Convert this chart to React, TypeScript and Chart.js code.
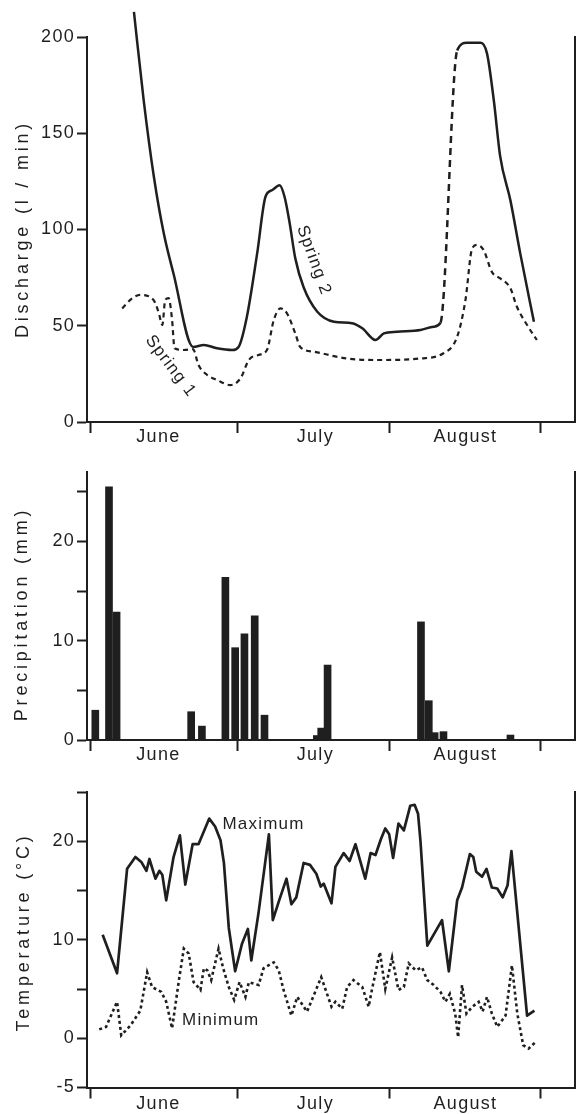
import React, { useEffect, useRef } from 'react';
import { Chart, registerables } from 'chart.js';

Chart.register(...registerables);

const FONT = '"Liberation Sans", Arial, Helvetica, sans-serif';
const INK = '#1f1f1f';

// x axis: days counted from 1 June
const monthBoundaryDays = [0, 30, 61, 92];
const monthLabelDays = [13.8, 45.9, 76.6];
const monthLabels = ['June', 'July', 'August'];

// Discharge (l/min)
const dischargeTicks = [0, 50, 100, 150, 200];
const dischargeLabelled = [0, 50, 100, 150, 200];
const spring2: [number, number | null][] = [
  [8.8, 213], [10.8, 167], [12.9, 127], [14.9, 98], [16.9, 77], [20.9, 39], [23.1, 40],
  [25.8, 38.3], [28.9, 37.4], [30.2, 39], [31.9, 54.7], [34.0, 87.6], [35.7, 117],
  [37.1, 120.5], [38.6, 123], [39.6, 117], [40.6, 104], [41.8, 85], [43.5, 70],
  [46.3, 57.3], [49.7, 52.1], [53.4, 51.3], [55.5, 48.7], [58.2, 42.6], [59.9, 46],
  [62.6, 46.9], [67.4, 47.8], [70.1, 49.5], [71.5, 51.6], [73.2, null], [74.9, 193],
  [76.9, 197], [79.7, 197], [81.0, 191.5], [82.4, 167], [83.7, 138], [85.8, 115],
  [87.8, 87.6], [90.6, 52.1],
];
const spring1: [number, number][] = [
  [6.4, 59], [8.3, 64], [10.1, 66], [12.8, 63.4], [13.9, 56.5], [14.6, 50.4], [15.2, 63.4],
  [15.9, 64.3], [16.6, 53], [17.1, 38.3], [19.0, 37.4], [20.9, 37.8], [22.0, 29.6],
  [23.8, 24.4], [25.8, 21.8], [28.5, 19.2], [30.6, 22.7], [32.3, 32.2], [34.3, 34.8],
  [36.0, 37.4], [37.4, 53], [38.75, 59], [40.1, 56.4], [41.8, 46], [42.8, 39], [45.6, 36.5],
  [52.4, 33], [59.2, 32.2], [67.4, 33], [72.1, 35.7], [74.9, 44.3], [76.6, 63.4],
  [77.95, 90], [79.0, 92], [80.3, 89.4], [82.0, 78], [83.7, 74.6], [85.8, 69.4],
  [87.1, 60], [89.2, 50.4], [91.2, 42.6],
];

// Precipitation (mm)
const precipTicks = [0, 5, 10, 15, 20, 25];
const precipLabelled = [0, 10, 20];
const precipitation: [number, number][] = [
  [0.9, 3.0], [3.7, 25.5], [5.25, 12.9], [20.5, 2.85], [22.7, 1.4], [27.5, 16.4],
  [29.5, 9.3], [31.4, 10.7], [33.5, 12.5], [35.5, 2.5], [46.2, 0.45], [47.1, 1.2],
  [48.4, 7.55], [67.5, 11.9], [69.1, 3.96], [70.3, 0.74], [72.1, 0.84], [85.8, 0.5],
];

// Temperature (°C)
const tempTicks = [-5, 0, 5, 10, 15, 20, 25];
const tempLabelled = [-5, 0, 10, 20];
const tempMax: [number, number][] = [
  [2.4, 10.5], [5.35, 6.6], [7.4, 17.2], [9.1, 18.4], [10.3, 17.9], [11.35, 17.0],
  [11.96, 18.2], [13.2, 16.2], [14.0, 17.0], [14.6, 16.6], [15.4, 14.0], [16.9, 18.4],
  [18.2, 20.6], [19.3, 15.6], [20.8, 19.7], [22.0, 19.7], [22.6, 20.4], [24.2, 22.3],
  [25.4, 21.5], [26.5, 20.1], [27.2, 17.8], [28.2, 11.2], [29.5, 6.8], [30.9, 9.6],
  [32.1, 11.1], [32.8, 7.9], [34.3, 12.8], [36.4, 20.7], [37.2, 12.0], [38.5, 14.0],
  [40.0, 16.2], [41.0, 13.6], [42.0, 14.3], [43.5, 17.8], [44.8, 17.6], [46.1, 16.7],
  [47.0, 15.4], [47.6, 15.7], [49.2, 13.7], [50.0, 17.4], [51.7, 18.8], [52.9, 18.0],
  [54.1, 19.7], [56.1, 16.2], [57.2, 18.8], [58.2, 18.6], [59.3, 20.2], [60.2, 21.3],
  [61.0, 20.7], [61.8, 18.3], [62.9, 21.8], [64.0, 21.1], [65.3, 23.6], [66.2, 23.7],
  [66.9, 22.8], [67.4, 20.0], [68.8, 9.4], [71.8, 12.0], [73.2, 6.8], [74.9, 14.0],
  [75.9, 15.3], [77.5, 18.7], [78.2, 18.4], [78.8, 16.9], [80.0, 16.4], [80.9, 17.2],
  [82.0, 15.3], [83.1, 15.2], [84.2, 14.3], [85.2, 15.5], [86.0, 19.0], [89.2, 2.3],
  [90.7, 2.8],
];
const tempMin: [number, number][] = [
  [1.7, 0.9], [3.1, 1.15], [5.35, 3.7], [6.2, 0.3], [8.1, 1.3], [10.1, 2.8], [11.5, 6.7],
  [12.5, 5.2], [14.4, 4.7], [15.4, 3.7], [16.6, 1.0], [18.0, 5.9], [19.0, 9.1], [20.0, 8.6],
  [21.0, 5.7], [22.4, 4.9], [23.1, 7.1], [23.8, 6.9], [24.6, 5.9], [26.1, 9.1], [27.0, 7.2],
  [28.2, 5.2], [29.3, 3.9], [30.4, 5.7], [31.6, 4.2], [32.3, 5.7], [34.3, 5.4], [35.3, 7.1],
  [37.4, 7.7], [38.4, 6.9], [39.4, 4.9], [41.0, 2.3], [42.2, 4.2], [44.2, 2.7], [47.1, 6.2],
  [49.2, 3.2], [50.0, 3.7], [51.4, 3.0], [52.4, 5.2], [53.7, 5.9], [55.5, 5.2], [56.8, 3.2],
  [57.5, 5.0], [59.1, 8.75], [60.2, 5.0], [61.6, 8.2], [62.9, 4.9], [64.0, 5.2], [65.0, 7.6],
  [66.4, 6.9], [67.7, 7.2], [68.8, 5.9], [70.1, 5.4], [71.5, 4.7], [72.5, 3.7], [73.4, 4.5],
  [74.5, 2.5], [75.1, 0.1], [75.9, 5.4], [76.8, 2.5], [78.0, 3.2], [79.3, 3.7], [80.1, 2.7],
  [81.0, 4.2], [82.0, 2.5], [83.1, 1.15], [84.8, 2.3], [86.1, 7.4], [87.2, 2.5], [88.4, -0.7],
  [89.5, -1.05], [90.9, -0.4],
];

type Note = { text: string; x: number; y: number; angle: number; align: CanvasTextAlign };

const toXY = (arr: [number, number | null][]) => arr.map(([x, y]) => ({ x, y }));

function makeDecor(title: string, titleX: number, titleY: number, notes: Note[]) {
  return {
    id: 'decor',
    beforeDraw(chart: any) {
      chart.ctx.letterSpacing = '1.3px';
    },
    afterDraw(chart: any) {
      const ctx = chart.ctx;
      ctx.save();
      ctx.fillStyle = INK;
      ctx.font = `18px ${FONT}`;
      ctx.letterSpacing = '3.8px';
      ctx.textAlign = 'center';
      ctx.textBaseline = 'middle';
      ctx.translate(titleX, titleY);
      ctx.rotate(-Math.PI / 2);
      ctx.fillText(title, 0, 0);
      ctx.restore();
      const xs = chart.scales.x;
      const ys = chart.scales.y;
      for (const n of notes) {
        ctx.save();
        ctx.font = `17px ${FONT}`;
        ctx.letterSpacing = '1.2px';
        ctx.fillStyle = INK;
        ctx.textAlign = n.align;
        ctx.textBaseline = 'middle';
        ctx.translate(xs.getPixelForValue(n.x), ys.getPixelForValue(n.y));
        ctx.rotate((n.angle * Math.PI) / 180);
        ctx.fillText(n.text, 0, 0);
        ctx.restore();
      }
    },
  };
}

function xScale(labelPad: number, axisHeight: number) {
  return {
    type: 'linear',
    min: -0.8,
    max: 99,
    offset: false,
    afterBuildTicks: (s: any) => {
      s.ticks = [...monthBoundaryDays, ...monthLabelDays].sort((a, b) => a - b).map((v) => ({ value: v }));
    },
    afterFit: (s: any) => {
      s.height = axisHeight;
    },
    ticks: {
      autoSkip: false,
      maxRotation: 0,
      minRotation: 0,
      padding: labelPad,
      color: INK,
      font: { family: FONT, size: 18 },
      callback: (v: number) => {
        const i = monthLabelDays.indexOf(v);
        return i >= 0 ? monthLabels[i] : '';
      },
    },
    grid: {
      offset: false,
      drawOnChartArea: false,
      drawTicks: true,
      tickLength: 11,
      tickWidth: 2,
      tickColor: (c: any) => (c.tick && monthBoundaryDays.includes(c.tick.value) ? INK : 'rgba(0,0,0,0)'),
    },
    border: { color: INK, width: 2 },
  };
}

function yScale(min: number, max: number, ticks: number[], labelled: number[]) {
  return {
    type: 'linear',
    min,
    max,
    afterBuildTicks: (s: any) => {
      s.ticks = ticks.map((v) => ({ value: v }));
    },
    afterFit: (s: any) => {
      s.width = 87;
    },
    ticks: {
      padding: 2,
      color: INK,
      font: { family: FONT, size: 18 },
      callback: (v: number) => (labelled.includes(v) ? String(v) : ''),
    },
    grid: { drawOnChartArea: false, tickLength: 10, tickWidth: 2, tickColor: INK },
    border: { color: INK, width: 2 },
  };
}

const rightBorder = {
  position: 'right',
  display: true,
  ticks: { display: false },
  grid: { display: false },
  border: { display: true, color: INK, width: 2 },
  afterFit: (s: any) => {
    s.width = 0;
  },
};

const baseOptions = {
  responsive: false,
  animation: false,
  devicePixelRatio: 1,
  events: [],
  plugins: { legend: { display: false }, tooltip: { enabled: false } },
};

const gapDash = (c: any) => (c.p0.skip || c.p1.skip ? [7, 5] : undefined);

function dischargeConfig(): any {
  return {
    type: 'line',
    data: {
      datasets: [
        {
          label: 'Spring 2',
          data: toXY(spring2),
          borderColor: INK,
          borderWidth: 2.5,
          pointRadius: 0,
          cubicInterpolationMode: 'monotone',
          spanGaps: true,
          clip: false,
          segment: { borderDash: gapDash },
        },
        {
          label: 'Spring 1',
          data: toXY(spring1),
          borderColor: INK,
          borderWidth: 2.2,
          borderDash: [5, 4],
          pointRadius: 0,
          cubicInterpolationMode: 'monotone',
          clip: false,
        },
      ],
    },
    options: {
      ...baseOptions,
      layout: { padding: { left: 0, right: 6, top: 37, bottom: 0 } },
      scales: {
        x: xScale(-7, 28),
        y: yScale(0, 200, dischargeTicks, dischargeLabelled),
        yR: rightBorder,
      },
    },
    plugins: [
      makeDecor('Discharge (l / min)', 23, 229, [
        { text: 'Spring 2', x: 45.6, y: 84, angle: 70, align: 'center' },
        { text: 'Spring 1', x: 16.3, y: 29, angle: 53, align: 'center' },
      ]),
    ],
  };
}

function precipConfig(): any {
  return {
    type: 'bar',
    data: {
      datasets: [
        {
          label: 'Precipitation',
          data: toXY(precipitation),
          backgroundColor: INK,
          borderWidth: 0,
          barThickness: 7,
        },
      ],
    },
    options: {
      ...baseOptions,
      layout: { padding: { left: 0, right: 6, top: 22, bottom: 0 } },
      scales: {
        x: xScale(-7, 30),
        y: yScale(0, 27, precipTicks, precipLabelled),
        yR: rightBorder,
      },
    },
    plugins: [makeDecor('Precipitation (mm)', 22, 164, [])],
  };
}

function tempConfig(): any {
  return {
    type: 'line',
    data: {
      datasets: [
        {
          label: 'Maximum',
          data: toXY(tempMax),
          borderColor: INK,
          borderWidth: 2.7,
          borderJoinStyle: 'round',
          pointRadius: 0,
          tension: 0,
        },
        {
          label: 'Minimum',
          data: toXY(tempMin),
          borderColor: INK,
          borderWidth: 2.6,
          borderDash: [3, 3],
          pointRadius: 0,
          tension: 0,
        },
      ],
    },
    options: {
      ...baseOptions,
      layout: { padding: { left: 0, right: 6, top: 22, bottom: 0 } },
      scales: {
        x: xScale(-5, 26.5),
        y: yScale(-5, 25, tempTicks, tempLabelled),
        yR: rightBorder,
      },
    },
    plugins: [
      makeDecor('Temperature (°C)', 24, 162, [
        { text: 'Maximum', x: 26.9, y: 21.7, angle: 0, align: 'left' },
        { text: 'Minimum', x: 18.65, y: 1.8, angle: 0, align: 'left' },
      ]),
    ],
  };
}

function Panel({ top, height, makeConfig }: { top: number; height: number; makeConfig: () => any }) {
  const ref = useRef<HTMLCanvasElement>(null);
  useEffect(() => {
    const chart = new Chart(ref.current as HTMLCanvasElement, makeConfig());
    return () => chart.destroy();
  }, []);
  return (
    <canvas
      ref={ref}
      width={581}
      height={height}
      style={{ position: 'absolute', left: 0, top, width: 581, height, display: 'block' }}
    />
  );
}

export default function App() {
  return (
    <div style={{ position: 'absolute', left: 0, top: 0, width: 581, height: 1114, background: '#fff' }}>
      <Panel top={0} height={450} makeConfig={dischargeConfig} />
      <Panel top={450} height={320} makeConfig={precipConfig} />
      <Panel top={770} height={344} makeConfig={tempConfig} />
    </div>
  );
}
